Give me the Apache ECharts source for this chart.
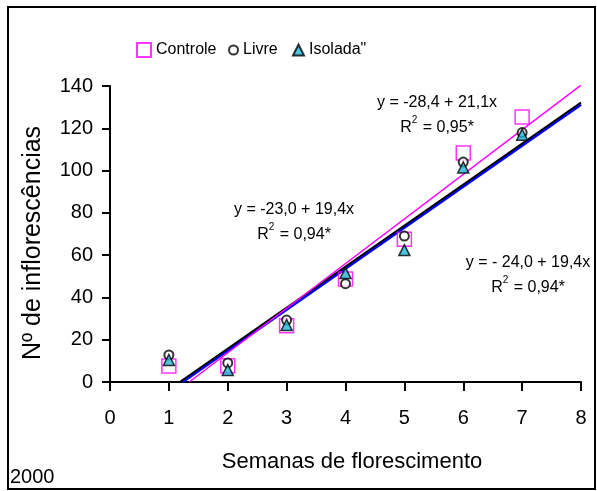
<!DOCTYPE html>
<html>
<head>
<meta charset="utf-8">
<script src="https://cdn.jsdelivr.net/npm/echarts@6/dist/echarts.min.js"></script>
<style>
  html, body { margin: 0; padding: 0; background: #fff; }
  #chart { width: 597px; height: 491px; }
</style>
</head>
<body>
<div id="chart"></div>
<script>
// Weeks of flowering and inflorescence counts per treatment
const weeks = [1, 2, 3, 4, 5, 6, 7];
const controle = [7.6, 7.7, 26.6, 48.7, 67.5, 108.3, 125.3];
const livre = [12.8, 9.0, 29.3, 46.5, 69.0, 104.0, 118.0];
const isolada = [10.4, 5.7, 27.0, 51.5, 62.4, 101.5, 117.0];

// Fitted linear models: [intercept, slope]
const fitControle = [-28.4, 21.1];
const fitLivre = [-23.0, 19.4];
const fitIsolada = [-24.0, 19.4];

const xTicks = [0, 1, 2, 3, 4, 5, 6, 7, 8];
const yTicks = [0, 20, 40, 60, 80, 100, 120, 140];

const FONT = '"Liberation Sans", Arial, sans-serif';

function pairs(values) {
  return weeks.map((w, i) => [w, values[i]]);
}
// Line from its x-intercept to the right edge of the axis
function fitLine(fit) {
  const x0 = -fit[0] / fit[1];
  const x1 = xTicks[xTicks.length - 1];
  return [[x0, 0], [x1, fit[0] + fit[1] * x1]];
}

function equationText(eq, r2, cx, cy) {
  return {
    type: 'text', x: cx, y: cy,
    style: {
      text: eq + '\n{r|R}{s|2}{r| = ' + r2 + '}',
      align: 'center', verticalAlign: 'middle',
      fill: '#000', font: '16px ' + FONT, lineHeight: 25,
      rich: {
        r: { fontSize: 16, fontFamily: FONT, fill: '#000' },
        s: { fontSize: 10, fontFamily: FONT, fill: '#000', verticalAlign: 'top', padding: [0, 1, 8, 0] }
      }
    }
  };
}

const chart = echarts.init(document.getElementById('chart'), null, { renderer: 'canvas' });

const legendBase = {
  top: 42, itemGap: 0, padding: 0,
  textStyle: { color: '#000', fontFamily: FONT, fontSize: 16 }
};

chart.setOption({
  animation: false,
  backgroundColor: '#fff',
  grid: { left: 110, right: 16, top: 86, bottom: 109, containLabel: false },
  xAxis: {
    type: 'value', min: 0, max: 8, interval: 1,
    axisLine: { show: true, onZero: false, lineStyle: { color: '#000', width: 2 } },
    axisTick: { show: true, length: 9, lineStyle: { color: '#000', width: 2 } },
    splitLine: { show: false },
    axisLabel: { color: '#000', fontFamily: FONT, fontSize: 20, margin: 26 }
  },
  yAxis: {
    type: 'value', min: 0, max: 140, interval: 20,
    axisLine: { show: true, onZero: false, lineStyle: { color: '#000', width: 2 } },
    axisTick: { show: true, length: 8, lineStyle: { color: '#000', width: 2 } },
    splitLine: { show: false },
    axisLabel: { color: '#000', fontFamily: FONT, fontSize: 20, margin: 17 }
  },
  legend: [
    Object.assign({}, legendBase, {
      left: 136, itemWidth: 14, itemHeight: 14,
      data: [{ name: 'Controle', icon: 'rect' }]
    }),
    Object.assign({}, legendBase, {
      left: 228, itemWidth: 9, itemHeight: 9,
      data: [{ name: 'Livre', icon: 'circle' }]
    }),
    Object.assign({}, legendBase, {
      left: 292, itemWidth: 11, itemHeight: 11,
      data: [{ name: 'Isolada"', icon: 'triangle' }]
    })
  ],
  series: [
    {
      type: 'line', name: 'fitIsolada', data: fitLine(fitIsolada), symbol: 'none',
      lineStyle: { color: '#0000FF', width: 2.5 }, z: 2, silent: true
    },
    {
      type: 'line', name: 'fitLivre', data: fitLine(fitLivre), symbol: 'none',
      lineStyle: { color: '#000', width: 2 }, z: 3, silent: true
    },
    {
      type: 'line', name: 'fitControle', data: fitLine(fitControle), symbol: 'none',
      lineStyle: { color: '#FF00FF', width: 1.5 }, z: 3, silent: true
    },
    {
      type: 'scatter', name: 'Controle', data: pairs(controle),
      symbol: 'rect', symbolSize: 14,
      itemStyle: { color: 'rgba(255,255,255,0)', borderColor: '#FF00FF', borderWidth: 1.5 }, z: 4
    },
    {
      type: 'scatter', name: 'Livre', data: pairs(livre),
      symbol: 'circle', symbolSize: 9,
      itemStyle: { color: '#fff', borderColor: '#000', borderWidth: 2 }, z: 5
    },
    {
      type: 'scatter', name: 'Isolada"', data: pairs(isolada),
      symbol: 'triangle', symbolSize: 11,
      itemStyle: { color: '#1FB5D8', borderColor: '#000', borderWidth: 1.5 }, z: 6
    }
  ],
  graphic: [
    {
      type: 'rect', shape: { x: 8, y: 7, width: 587, height: 482 },
      style: { fill: 'none', stroke: '#000', lineWidth: 2 }, silent: true, z: 100
    },
    {
      type: 'text', x: 10, y: 477,
      style: { text: '2000', fill: '#000', font: '20px ' + FONT, verticalAlign: 'middle' }
    },
    {
      type: 'text', x: 352, y: 462,
      style: { text: 'Semanas de florescimento', fill: '#000', font: '22px ' + FONT, align: 'center', verticalAlign: 'middle' }
    },
    {
      type: 'text', x: 33, y: 243, rotation: Math.PI / 2,
      style: { text: 'Nº de inflorescências', fill: '#000', font: '25px ' + FONT, align: 'center', verticalAlign: 'middle' }
    },
    equationText('y = -28,4 + 21,1x', '0,95*', 437, 115),
    equationText('y = -23,0 + 19,4x', '0,94*', 294, 222),
    equationText('y = - 24,0 + 19,4x', '0,94*', 528, 275)
  ]
});
</script>
</body>
</html>
